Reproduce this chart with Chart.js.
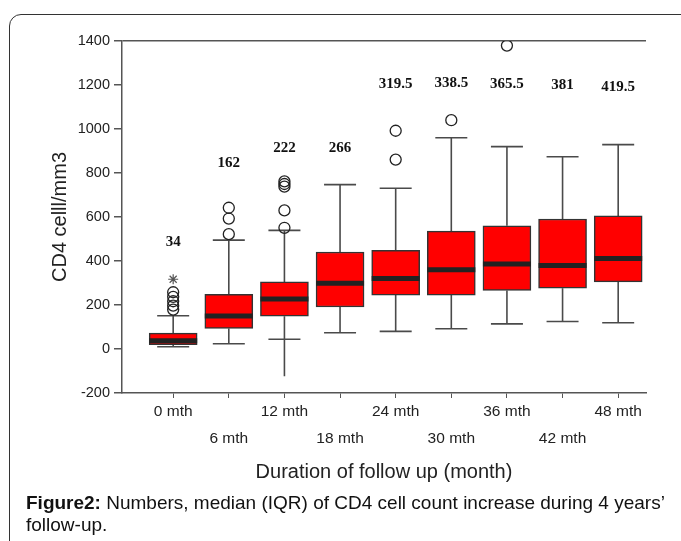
<!DOCTYPE html>
<html>
<head>
<meta charset="utf-8">
<script src="https://cdn.jsdelivr.net/npm/chart.js@4.4.0/dist/chart.umd.min.js"></script>
<style>
  html, body { margin: 0; padding: 0; background: #fff; overflow: hidden; }
  #wrap { position: relative; width: 681px; height: 541px; overflow: hidden; }
  #frame { position: absolute; left: 9px; top: 14px; width: 690px; height: 540px;
           border: 1.5px solid #333; border-radius: 12px; box-sizing: border-box; }
  canvas { position: absolute; left: 0; top: 0; }
  #caption { position: absolute; left: 26px; top: 492px; font: 19px 'Liberation Sans', Arial, sans-serif;
             line-height: 22px; color: #111; white-space: nowrap; }
</style>
</head>
<body>
<div id="wrap">
  <div id="frame"></div>
  <canvas id="grafico" width="681" height="541"></canvas>
  <div id="caption"><b>Figure2:</b> Numbers, median (IQR) of CD4 cell count increase during 4 years’<br>follow-up.</div>
</div>
<script>
// dados
const categories = ['0 mth', '6 mth', '12 mth', '18 mth', '24 mth', '30 mth', '36 mth', '42 mth', '48 mth'];
const q1 = [20, 93, 149, 191, 245, 245, 266, 276, 305];
const medians = [38, 150, 227, 299, 320, 360, 386, 380, 411];
const q3 = [72, 249, 305, 441, 449, 536, 560, 591, 605];
const whiskerLow = [10, 24, 44, 74, 80, 92, 114, 125, 119];
const whiskerHigh = [151, 495, 539, 747, 731, 960, 920, 874, 929];
const tailLow = [null, null, -124, null, null, null, null, null, null]; // 12 mth line goes below the cap
const outlierCat = [0, 0, 0, 0, 0, 1, 1, 1, 2, 2, 2, 2, 2, 4, 4, 5, 6];
const outlierVal = [258, 237, 217, 197, 179, 642, 593, 522, 762, 750, 738, 630, 551, 992, 861, 1040, 1379];
const extremeCat = [0];
const extremeVal = [317];
const medianLabels = ['34', '162', '222', '266', '319.5', '338.5', '365.5', '381', '419.5'];
const labelAt = [486, 846, 911, 911, 1205, 1210, 1205, 1200, 1191];
const yTicks = [-200, 0, 200, 400, 600, 800, 1000, 1200, 1400];

const axisColor = '#555';

// whiskers, medians e numeros acima das caixas
const boxParts = {
    id: 'boxParts',
    beforeDatasetsDraw(chart) {
        const { ctx, scales: { x, y } } = chart;
        ctx.save();
        ctx.strokeStyle = '#4a4a4a';
        ctx.lineWidth = 1.6;
        categories.forEach((c, i) => {
            const cx = x.getPixelForValue(i);
            const low = tailLow[i] !== null ? tailLow[i] : whiskerLow[i];
            ctx.beginPath();
            ctx.moveTo(cx, y.getPixelForValue(whiskerHigh[i]));
            ctx.lineTo(cx, y.getPixelForValue(q3[i]));
            ctx.moveTo(cx, y.getPixelForValue(q1[i]));
            ctx.lineTo(cx, y.getPixelForValue(low));
            [whiskerHigh[i], whiskerLow[i]].forEach(v => {
                const py = y.getPixelForValue(v);
                ctx.moveTo(cx - 16, py);
                ctx.lineTo(cx + 16, py);
            });
            ctx.stroke();
        });
        ctx.restore();
    },
    afterDatasetsDraw(chart) {
        const { ctx, scales: { x, y } } = chart;
        ctx.save();
        ctx.strokeStyle = '#222';
        ctx.lineWidth = 5;
        categories.forEach((c, i) => {
            const cx = x.getPixelForValue(i);
            const py = y.getPixelForValue(medians[i]);
            ctx.beginPath();
            ctx.moveTo(cx - 24, py);
            ctx.lineTo(cx + 24, py);
            ctx.stroke();
        });
        ctx.fillStyle = '#111';
        ctx.font = 'bold 15px "Liberation Serif", "Times New Roman", serif';
        ctx.textAlign = 'center';
        ctx.textBaseline = 'middle';
        medianLabels.forEach((t, i) => {
            ctx.fillText(t, x.getPixelForValue(i), y.getPixelForValue(labelAt[i]));
        });
        ctx.restore();
    }
};

const ctx = document.getElementById('grafico').getContext('2d');

new Chart(ctx, {
    type: 'bar',
    data: {
        datasets: [
            {
                label: 'IQR',
                data: categories.map((c, i) => ({ x: i, y: [q1[i], q3[i]] })),
                backgroundColor: '#ff0000',
                borderColor: '#333',
                borderWidth: 1.5,
                borderSkipped: false,
                barThickness: 48
            },
            {
                type: 'scatter',
                label: 'outliers',
                data: outlierCat.map((c, i) => ({ x: c, y: outlierVal[i] })),
                pointStyle: 'circle',
                pointRadius: 5.5,
                backgroundColor: 'rgba(0,0,0,0)',
                borderColor: '#222',
                borderWidth: 1.3
            },
            {
                type: 'scatter',
                label: 'extremes',
                data: extremeCat.map((c, i) => ({ x: c, y: extremeVal[i] })),
                pointStyle: 'star',
                pointRadius: 5,
                borderColor: '#555',
                borderWidth: 1.2
            }
        ]
    },
    options: {
        responsive: false,
        animation: false,
        layout: { padding: { left: 0, top: 41, right: 35, bottom: 0 } },
        plugins: {
            legend: { display: false },
            tooltip: { enabled: false }
        },
        scales: {
            x: {
                type: 'linear',
                min: -0.92,
                max: 8.5,
                offset: false,
                afterBuildTicks: s => { s.ticks = categories.map((c, i) => ({ value: i })); },
                afterFit: s => { s.height = 148; },
                grid: { offset: false, drawOnChartArea: false, tickLength: 5, tickColor: axisColor },
                border: { color: axisColor, width: 1.5 },
                ticks: {
                    padding: 0,
                    autoSkip: false,
                    maxRotation: 0,
                    color: '#222',
                    font: { family: '"Liberation Sans", Arial, sans-serif', size: 15.5, lineHeight: 1.74 },
                    callback: v => (v % 2 === 0 ? categories[v] : ['', categories[v]])
                },
                title: {
                    display: true,
                    text: 'Duration of follow up (month)',
                    color: '#222',
                    font: { family: '"Liberation Sans", Arial, sans-serif', size: 20 },
                    padding: { bottom: 57 }
                }
            },
            y: {
                min: -200,
                max: 1400,
                afterBuildTicks: s => { s.ticks = yTicks.map(v => ({ value: v })); },
                afterFit: s => { s.width = 122; },
                grid: {
                    drawOnChartArea: true,
                    color: c => (c.tick && c.tick.value === 1400 ? axisColor : 'rgba(0,0,0,0)'),
                    lineWidth: 1.5,
                    tickLength: 8,
                    tickColor: axisColor
                },
                border: { color: axisColor, width: 1.5 },
                ticks: {
                    padding: 4,
                    color: '#222',
                    font: { family: '"Liberation Sans", Arial, sans-serif', size: 14.5 },
                    callback: v => String(v)
                },
                title: {
                    display: true,
                    text: 'CD4 celll/mm3',
                    color: '#222',
                    font: { family: '"Liberation Sans", Arial, sans-serif', size: 20 },
                    padding: { top: 48 }
                }
            }
        }
    },
    plugins: [boxParts]
});
</script>
</body>
</html>
